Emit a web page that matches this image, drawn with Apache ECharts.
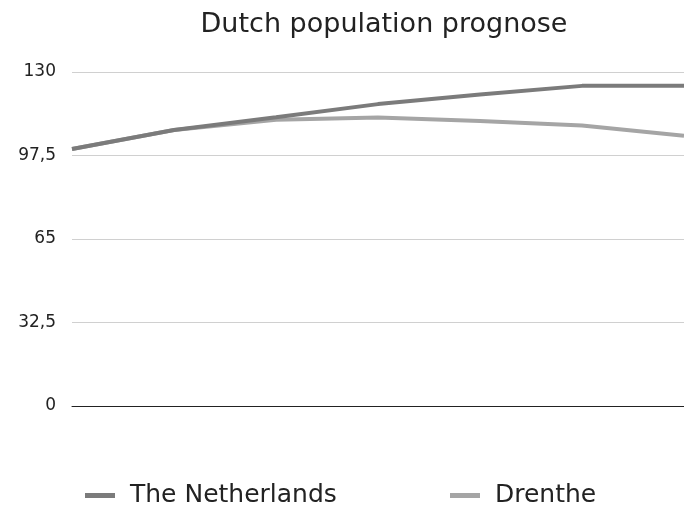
<!DOCTYPE html>
<html><head><meta charset="utf-8">
<script src="https://cdn.jsdelivr.net/npm/echarts@6/dist/echarts.min.js"></script>
<style>html,body{margin:0;padding:0;background:#fff}#c{width:684px;height:506px}</style>
</head><body><div id="c"></div>
<script>
const categories = ['2010','2015','2020','2025','2030','2035','2040'];
const netherlands = [100, 107.4, 112.4, 117.5, 121.2, 124.6, 124.6];
const drenthe = [100, 107.4, 111.4, 112.3, 110.9, 109.2, 105.2];
const yTicks = [0, 32.5, 65, 97.5, 130];
const FONT = 'DejaVu Sans';
const chart = echarts.init(document.getElementById('c'));
chart.setOption({
  animation: false,
  title: { text: 'Dutch population prognose', left: 379, textAlign: 'center', top: 6,
    textStyle: { fontFamily: FONT, fontSize: 27, fontWeight: 'normal', color: '#222' } },
  grid: { left: 72, right: 0, top: 72, bottom: 100 },
  legend: [
    { data: ['The Netherlands'], left: 80, top: 478, icon: 'rect', itemWidth: 30, itemHeight: 5,
      textStyle: { fontFamily: FONT, fontSize: 25, color: '#222', padding: [0,0,0,10] } },
    { data: ['Drenthe'], left: 445, top: 478, icon: 'rect', itemWidth: 30, itemHeight: 5,
      textStyle: { fontFamily: FONT, fontSize: 25, color: '#222', padding: [0,0,0,10] } }
  ],
  xAxis: { type: 'category', data: categories, boundaryGap: false,
    axisLine: { lineStyle: { color: '#222', width: 1 } }, axisTick: { show: false }, axisLabel: { show: false } },
  yAxis: { type: 'value', min: 0, max: 130, interval: 32.5,
    axisLine: { show: false }, axisTick: { show: false },
    splitLine: { lineStyle: { color: '#d0d0d0', width: 1 } },
    axisLabel: { fontFamily: FONT, fontSize: 17, color: '#222', margin: 16, padding: [3,0,0,0],
      formatter: v => yTicks.includes(v) ? String(v).replace('.', ',') : '' } },
  series: [
    { name: 'The Netherlands', type: 'line', data: netherlands, symbol: 'none', z: 3,
      lineStyle: { width: 4, color: '#7b7b7b' }, itemStyle: { color: '#7b7b7b' } },
    { name: 'Drenthe', type: 'line', data: drenthe, symbol: 'none', z: 2,
      lineStyle: { width: 4, color: '#a5a5a5' }, itemStyle: { color: '#a5a5a5' } }
  ]
});
</script></body></html>
